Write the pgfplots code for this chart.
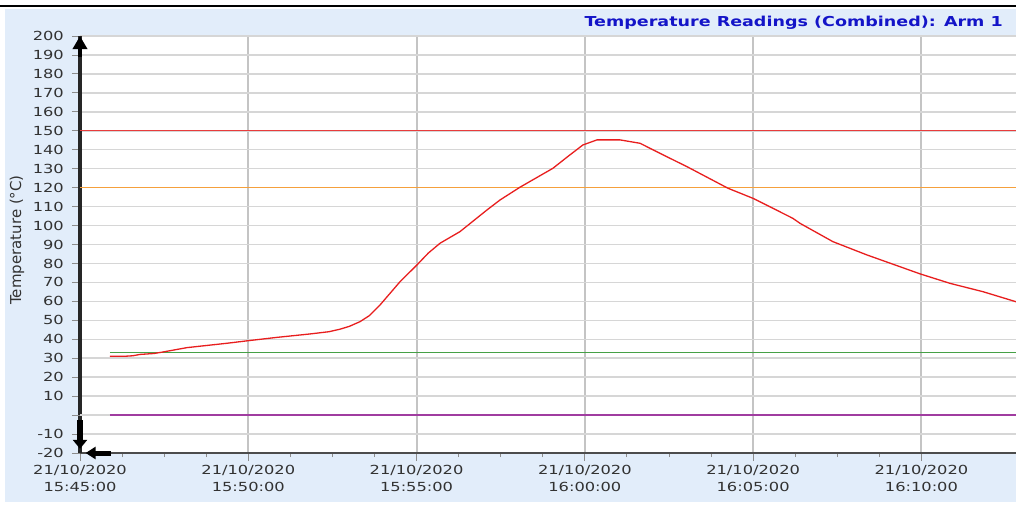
\documentclass[border=0pt]{standalone}
\usepackage{fontspec}
\setmainfont{DejaVu Sans}
\newfontfamily\tickfont[FakeStretch=1.3]{DejaVu Sans}
\newfontfamily\titlefont[FakeStretch=1.28]{DejaVu Sans Bold}
\usepackage{pgfplots}
\usepackage{pgfplotstable}
\pgfplotsset{compat=1.18}
\usetikzlibrary{arrows.meta}
\definecolor{bgblue}{RGB}{226,237,250}
\definecolor{titleblue}{RGB}{20,20,200}
\definecolor{gridh}{RGB}{214,214,214}
\definecolor{gridv}{RGB}{196,196,196}
\definecolor{limred}{RGB}{232,60,60}
\definecolor{limorange}{RGB}{245,160,60}
\definecolor{limgreen}{RGB}{70,160,70}
\definecolor{limpurple}{RGB}{160,60,160}
\definecolor{curvered}{RGB}{232,30,30}
\definecolor{ticktext}{RGB}{50,50,50}

\pgfplotstableread{
t v
0.89 31
1.30 31
1.57 31.3
1.78 32.0
2.20 32.5
2.47 33.3
3.18 35.6
3.80 36.8
4.37 37.9
5.02 39.3
5.85 41.0
6.83 42.8
7.40 44.0
7.72 45.3
8.00 46.8
8.32 49.3
8.60 52.5
8.91 58.0
9.20 64.0
9.51 70.4
10.01 79.2
10.35 85.5
10.70 90.7
11.29 96.8
12.09 108.2
12.48 113.5
13.07 120.2
14.05 130.2
14.50 136.5
14.94 142.5
15.36 145.2
16.04 145.2
16.64 143.4
17.30 137.5
18.03 131.1
19.25 119.7
19.99 114.4
20.60 109.0
21.18 103.8
21.39 101.2
22.37 91.5
23.38 84.5
24.36 78.3
24.96 74.5
25.85 69.5
26.83 65.1
27.81 59.8
}\temp

\begin{document}
\begin{tikzpicture}
\useasboundingbox (0,0) rectangle (1016pt,504pt);
\fill[white] (0,0) rectangle (1016pt,504pt);
\fill[bgblue] (5pt,2pt) rectangle (1016pt,495pt);
\draw[black, line width=2.5pt] (0,498pt) -- (1016pt,498pt);
\begin{axis}[
  at={(80pt,51pt)}, anchor=south west,
  scale only axis, width=936pt, height=417pt,
  clip=false,
  axis background/.style={fill=white},
  xmin=0, xmax=27.81, ymin=-20, ymax=200,
  axis x line*=bottom, axis y line*=left,
  x axis line style={draw=black!70, line width=2.2pt},
  y axis line style={draw=black!85, line width=3.5pt},
  xtick={0,5,10,15,20,25},
  xticklabels={{21/10/2020\\15:45:00},{21/10/2020\\15:50:00},{21/10/2020\\15:55:00},{21/10/2020\\16:00:00},{21/10/2020\\16:05:00},{21/10/2020\\16:10:00}},
  ytick={-20,-10,10,20,30,40,50,60,70,80,90,100,110,120,130,140,150,160,170,180,190,200},
  yticklabels={-20,-10,10,20,30,40,50,60,70,80,90,100,110,120,130,140,150,160,170,180,190,200},
  extra y ticks={0}, extra y tick labels={},
  minor x tick num=3, minor y tick num=4,
  tick align=outside,
  major tick length=8pt, minor tick length=4pt,
  tick style={draw=black!45, line width=0.9pt},
  grid=major,
  major x grid style={draw=gridv, line width=2pt},
  major y grid style={draw=gridh, line width=1.5pt},
  xticklabel style={font=\tickfont\fontsize{12.5}{17}\selectfont, align=center, text=ticktext, inner sep=0pt, yshift=-4pt},
  yticklabel style={font=\tickfont\fontsize{12.5}{15}\selectfont, text=ticktext, inner sep=0pt, xshift=-8pt},
]
\addplot[limred, line width=1.3pt] coordinates {(0,150) (27.81,150)};
\addplot[limorange, line width=1.3pt] coordinates {(0,120) (27.81,120)};
\addplot[limgreen, line width=1.3pt] coordinates {(0.89,33) (27.81,33)};
\addplot[limpurple, line width=1.3pt] coordinates {(0.89,0) (27.81,0)};
\addplot[curvered, line width=1.3pt] table {\temp};
\draw[black, line width=4pt, -{Triangle[length=13pt,width=14pt]}] (rel axis cs:0,0.95) -- (rel axis cs:0,1);
\draw[black, line width=6pt, -{Triangle[length=9pt,width=14pt]}] (rel axis cs:0,0.078) -- (rel axis cs:0,0.01);
\draw[black, line width=5pt, -{Triangle[length=10pt,width=12pt]}] (rel axis cs:0.033,0) -- (rel axis cs:0.006,0);
\end{axis}
\node[anchor=base east, inner sep=0pt, text=titleblue, font=\titlefont\fontsize{13.7}{16}\selectfont] at (1003pt,477pt) {Temperature Readings (Combined): Arm 1};
\node[rotate=90, inner sep=0pt, text=ticktext, font=\fontsize{15}{17}\selectfont] at (17pt,264pt) {Temperature (°C)};
\end{tikzpicture}
\end{document}
